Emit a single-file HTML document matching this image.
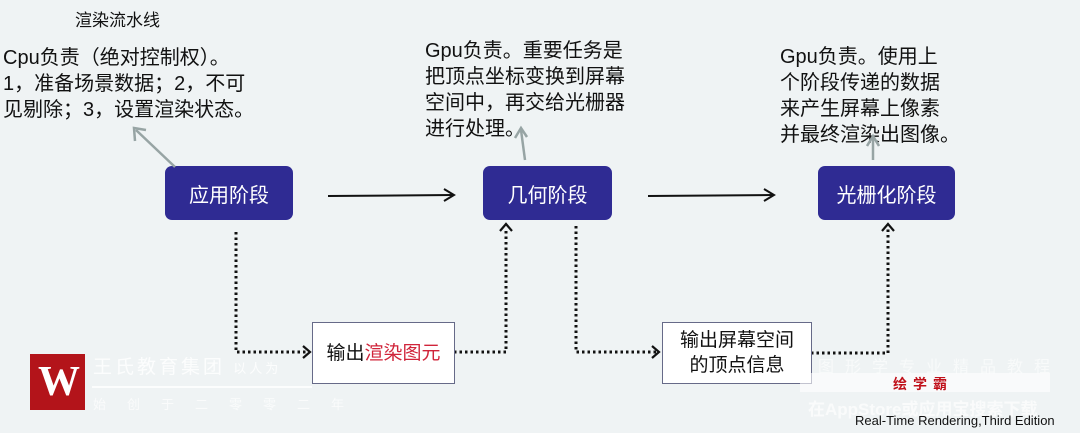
<!DOCTYPE html>
<html><head><meta charset="utf-8"><style>
body{margin:0;width:1080px;height:433px;background:#eff3f4;position:relative;overflow:hidden;font-family:"Liberation Sans","Noto Sans CJK SC",sans-serif;color:#111}
.t{position:absolute;white-space:nowrap}
.stage{position:absolute;background:#2f2b93;color:#fff;border-radius:7px;display:flex;align-items:center;justify-content:center;font-size:20px;height:54px;top:166px}
.ob{position:absolute;background:#fff;border:1.5px solid #666a88;display:flex;align-items:center;justify-content:center;text-align:center;font-size:19px;line-height:25px;top:322px;height:60px}
</style></head><body>
<div class="t" style="left:75px;top:6px;font-size:17px">渲染流水线</div>
<div class="t" style="left:3px;top:45px;font-size:20px;line-height:26px">Cpu负责（绝对控制权）。<br>1，准备场景数据；2，不可<br>见剔除；3，设置渲染状态。</div>
<div class="t" style="left:425px;top:38px;font-size:20px;line-height:26px">Gpu负责。重要任务是<br>把顶点坐标变换到屏幕<br>空间中，再交给光栅器<br>进行处理。</div>
<div class="t" style="left:780px;top:44px;font-size:20px;line-height:26px">Gpu负责。使用上<br>个阶段传递的数据<br>来产生屏幕上像素<br>并最终渲染出图像。</div>

<div class="stage" style="left:165px;width:128px">应用阶段</div>
<div class="stage" style="left:483px;width:129px">几何阶段</div>
<div class="stage" style="left:818px;width:137px">光栅化阶段</div>

<svg width="1080" height="433" style="position:absolute;left:0;top:0">
<g stroke="#111" stroke-width="2" fill="none">
<line x1="328" y1="196" x2="453" y2="195"/><polyline points="444,189 454,195 444,201"/>
<line x1="648" y1="196" x2="773" y2="195"/><polyline points="764,189 774,195 764,201"/>
</g>
<g stroke="#97a4a4" stroke-width="2.5" fill="none">
<line x1="175" y1="167" x2="136" y2="130"/><polyline points="135,141 134,128 146,130"/>
<line x1="525" y1="160" x2="521" y2="130"/><polyline points="515,138 521,128 527,137"/>
<line x1="873" y1="160" x2="873" y2="138"/><polyline points="867,146 873,136 879,146"/>
</g>
<g stroke="#111" stroke-width="3" fill="none" stroke-dasharray="2.5 3">
<polyline points="236,232 236,352 306,352"/>
<polyline points="454,352 506,352 506,228"/>
<polyline points="576,226 576,352 656,352"/>
<polyline points="811,353 888,353 888,228"/>
</g>
<g stroke="#111" stroke-width="2.2" fill="none">
<polyline points="303,346 310,352 303,358"/>
<polyline points="500,231 506,224 512,231"/>
<polyline points="652,346 659,352 652,358"/>
<polyline points="882,231 888,224 894,231"/>
</g>
</svg>

<div class="ob" style="left:312px;width:141px;font-size:19px">输出<span style="color:#d0243a">渲染图元</span></div>
<div class="ob" style="left:662px;width:148px">输出屏幕空间<br>的顶点信息</div>

<div style="position:absolute;left:30px;top:354px;width:55px;height:56px;background:#b3141a"></div>
<div class="t" style="left:38px;top:358px;font-size:42px;font-weight:bold;color:#fff;font-family:'Liberation Serif',serif">W</div>
<div class="t" style="left:93px;top:352px;font-size:19px;color:#fff;opacity:.85;letter-spacing:3px">王氏教育集团 <span style="font-size:13px">以人为</span></div>
<div style="position:absolute;left:92px;top:386px;width:220px;height:2px;background:#fff;opacity:.8"></div>
<div class="t" style="left:93px;top:394px;font-size:13px;color:#fff;opacity:.7;letter-spacing:21px">始创于二零零二年</div>
<div class="t" style="left:818px;top:353px;font-size:16px;color:#fff;opacity:.6;letter-spacing:11px">图形学专业精品教程</div>
<div style="position:absolute;left:800px;top:373px;width:250px;height:19px;background:#fff;opacity:.6"></div>
<div class="t" style="left:893px;top:374px;font-size:14px;font-weight:bold;color:#c0101a;letter-spacing:6px">绘学霸</div>
<div class="t" style="left:808px;top:395px;font-size:17px;font-weight:bold;color:#fff;opacity:.7">在AppStore或应用宝搜索下载</div>
<div class="t" style="left:855px;top:413px;font-size:13px;color:#111">Real-Time Rendering,Third Edition</div>
</body></html>
